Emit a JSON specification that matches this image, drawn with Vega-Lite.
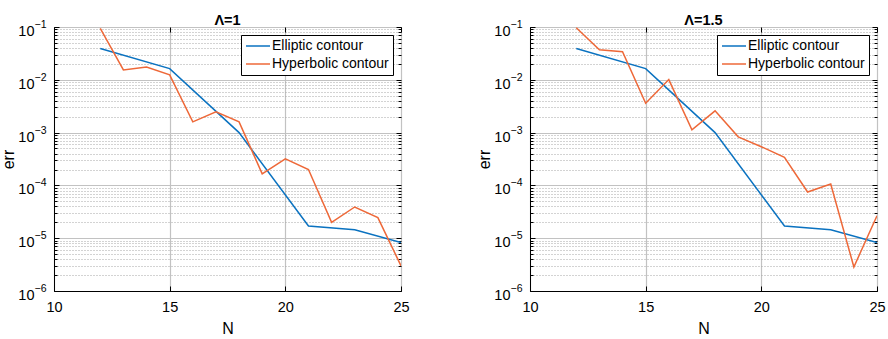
{
  "$schema": "https://vega.github.io/schema/vega-lite/v6.json",
  "padding": {"left": 0, "top": 12, "right": 0, "bottom": 0},
  "config": {
    "font": "Liberation Sans",
    "view": {"stroke": "#000000", "strokeWidth": 1},
    "axis": {"domainColor": "#000000", "tickColor": "#000000", "labelColor": "#000000", "titleColor": "#000000", "labelFontSize": 14.5, "titleFontSize": 16, "titleFontWeight": "normal", "labelFont": "Liberation Sans", "titleFont": "Liberation Sans"},
    "title": {"fontSize": 14.5, "fontWeight": "bold", "color": "#000000", "offset": -9},
    "legend": {"labelFontSize": 14, "labelColor": "#000000"}
  },
  "datasets": {
    "d": [
      {"panel": "A", "series": "Elliptic contour", "N": 12, "err": 0.039},
      {"panel": "A", "series": "Elliptic contour", "N": 15, "err": 0.0163},
      {"panel": "A", "series": "Elliptic contour", "N": 18, "err": 0.001},
      {"panel": "A", "series": "Elliptic contour", "N": 21, "err": 1.7e-5},
      {"panel": "A", "series": "Elliptic contour", "N": 23, "err": 1.45e-5},
      {"panel": "A", "series": "Elliptic contour", "N": 25, "err": 8.3e-6},
      {"panel": "A", "series": "Hyperbolic contour", "N": 12, "err": 0.094},
      {"panel": "A", "series": "Hyperbolic contour", "N": 13, "err": 0.0154},
      {"panel": "A", "series": "Hyperbolic contour", "N": 14, "err": 0.0175},
      {"panel": "A", "series": "Hyperbolic contour", "N": 15, "err": 0.0124},
      {"panel": "A", "series": "Hyperbolic contour", "N": 16, "err": 0.0016},
      {"panel": "A", "series": "Hyperbolic contour", "N": 17, "err": 0.00247},
      {"panel": "A", "series": "Hyperbolic contour", "N": 18, "err": 0.0016},
      {"panel": "A", "series": "Hyperbolic contour", "N": 19, "err": 1.66e-4},
      {"panel": "A", "series": "Hyperbolic contour", "N": 20, "err": 3.18e-4},
      {"panel": "A", "series": "Hyperbolic contour", "N": 21, "err": 2.0e-4},
      {"panel": "A", "series": "Hyperbolic contour", "N": 22, "err": 2.0e-5},
      {"panel": "A", "series": "Hyperbolic contour", "N": 23, "err": 3.9e-5},
      {"panel": "A", "series": "Hyperbolic contour", "N": 24, "err": 2.45e-5},
      {"panel": "A", "series": "Hyperbolic contour", "N": 25, "err": 3.0e-6},
      {"panel": "B", "series": "Elliptic contour", "N": 12, "err": 0.039},
      {"panel": "B", "series": "Elliptic contour", "N": 15, "err": 0.0163},
      {"panel": "B", "series": "Elliptic contour", "N": 18, "err": 0.001},
      {"panel": "B", "series": "Elliptic contour", "N": 21, "err": 1.7e-5},
      {"panel": "B", "series": "Elliptic contour", "N": 23, "err": 1.45e-5},
      {"panel": "B", "series": "Elliptic contour", "N": 25, "err": 8.3e-6},
      {"panel": "B", "series": "Hyperbolic contour", "N": 12, "err": 0.097},
      {"panel": "B", "series": "Hyperbolic contour", "N": 13, "err": 0.037},
      {"panel": "B", "series": "Hyperbolic contour", "N": 14, "err": 0.034},
      {"panel": "B", "series": "Hyperbolic contour", "N": 15, "err": 0.0036},
      {"panel": "B", "series": "Hyperbolic contour", "N": 16, "err": 0.0101},
      {"panel": "B", "series": "Hyperbolic contour", "N": 17, "err": 0.00113},
      {"panel": "B", "series": "Hyperbolic contour", "N": 18, "err": 0.00258},
      {"panel": "B", "series": "Hyperbolic contour", "N": 19, "err": 8.3e-4},
      {"panel": "B", "series": "Hyperbolic contour", "N": 20, "err": 5.4e-4},
      {"panel": "B", "series": "Hyperbolic contour", "N": 21, "err": 3.4e-4},
      {"panel": "B", "series": "Hyperbolic contour", "N": 22, "err": 7.5e-5},
      {"panel": "B", "series": "Hyperbolic contour", "N": 23, "err": 1.06e-4},
      {"panel": "B", "series": "Hyperbolic contour", "N": 24, "err": 2.85e-6},
      {"panel": "B", "series": "Hyperbolic contour", "N": 25, "err": 2.66e-5}
    ]
  },
  "spacing": 66,
  "resolve": {"scale": {"color": "independent"}, "legend": {"color": "independent"}},
  "hconcat": [
    {
      "title": "Λ=1",
      "width": 347, "height": 264,
      "data": {"name": "d"},
      "transform": [{"filter": "datum.panel == 'A'"}],
      "resolve": {"axis": {"x": "independent", "y": "independent"}},
      "layer": [
        {
          "mark": {"type": "line", "strokeWidth": 1.5, "clip": true},
          "encoding": {
            "x": {"field": "N", "type": "quantitative", "scale": {"domain": [10, 25], "nice": false, "zero": false},
              "axis": {"values": [10, 15, 20, 25], "title": "N", "grid": true, "gridColor": "#c2c2c2", "gridWidth": 1.2, "tickSize": -5, "labelPadding": 14, "titlePadding": 7, "labelFlush": false}},
            "y": {"field": "err", "type": "quantitative", "scale": {"type": "log", "domain": [1e-6, 0.1], "nice": false},
              "axis": {"values": [1e-6,2e-6,3e-6,4e-6,5e-6,6e-6,7e-6,8e-6,9e-6,1e-5,2e-5,3e-5,4e-5,5e-5,6e-5,7e-5,8e-5,9e-5,1e-4,2e-4,3e-4,4e-4,5e-4,6e-4,7e-4,8e-4,9e-4,0.001,0.002,0.003,0.004,0.005,0.006,0.007,0.008,0.009,0.01,0.02,0.03,0.04,0.05,0.06,0.07,0.08,0.09,0.1],
                "title": "err", "titlePadding": 1, "labelOverlap": false, "labelFlush": false,
                "labelExpr": "(abs(log(datum.value)/LN10 - round(log(datum.value)/LN10)) < 0.001) ? '10' : ''",
                "grid": true,
                "gridColor": {"condition": {"test": "abs(log(datum.value)/LN10 - round(log(datum.value)/LN10)) < 0.001", "value": "#c2c2c2"}, "value": "#a6a6a6"},
                "gridDash": {"condition": {"test": "abs(log(datum.value)/LN10 - round(log(datum.value)/LN10)) < 0.001", "value": []}, "value": [1, 2]},
                "gridWidth": {"condition": {"test": "abs(log(datum.value)/LN10 - round(log(datum.value)/LN10)) < 0.001", "value": 1.2}, "value": 1},
                "ticks": false, "tickSize": 0, "labelPadding": 20, "labelOffset": 4.5}},
            "color": {"field": "series", "type": "nominal", "scale": {"domain": ["Elliptic contour", "Hyperbolic contour"], "range": ["#0a72c0", "#ee6838"]},
              "legend": {"title": null, "orient": "top-right", "offset": 8, "strokeColor": "#000000", "fillColor": "#ffffff", "padding": 4, "symbolType": "M-2,0L2,0", "symbolSize": 144, "symbolOffset": 6, "symbolStrokeWidth": 1.5, "labelOffset": 7, "rowPadding": 4, "labelLimit": 300}}
          }
        },
        {
          "mark": {"type": "point", "opacity": 0},
          "encoding": {
            "x": {"field": "N", "type": "quantitative", "axis": {"orient": "top", "values": [10, 15, 20, 25], "title": null, "labels": false, "grid": false, "tickSize": -5, "domain": false}},
            "y": {"field": "err", "type": "quantitative",
              "axis": {"orient": "right", "values": [1e-6,2e-6,3e-6,4e-6,5e-6,6e-6,7e-6,8e-6,9e-6,1e-5,2e-5,3e-5,4e-5,5e-5,6e-5,7e-5,8e-5,9e-5,1e-4,2e-4,3e-4,4e-4,5e-4,6e-4,7e-4,8e-4,9e-4,0.001,0.002,0.003,0.004,0.005,0.006,0.007,0.008,0.009,0.01,0.02,0.03,0.04,0.05,0.06,0.07,0.08,0.09,0.1],
                "title": null, "labels": false, "grid": false, "domain": false,
                "tickSize": {"condition": {"test": "abs(log(datum.value)/LN10 - round(log(datum.value)/LN10)) < 0.001", "value": -5}, "value": -3}}}
          }
        },
        {
          "mark": {"type": "point", "opacity": 0},
          "encoding": {
            "x": {"field": "N", "type": "quantitative", "axis": null},
            "y": {"field": "err", "type": "quantitative",
              "axis": {"orient": "left", "values": [1e-6,1e-5,1e-4,0.001,0.01,0.1], "title": null, "grid": false, "domain": false, "ticks": false, "tickSize": 0,
                "labelExpr": "'−' + (-round(log(datum.value)/LN10))", "labelAlign": "left", "labelPadding": 20, "labelOffset": -2.5, "labelFontSize": 10.5, "labelOverlap": false, "labelFlush": false}}
          }
        },
        {
          "mark": {"type": "point", "opacity": 0},
          "encoding": {
            "x": {"field": "N", "type": "quantitative", "axis": null},
            "y": {"field": "err", "type": "quantitative",
              "axis": {"orient": "left", "values": [1e-6,2e-6,3e-6,4e-6,5e-6,6e-6,7e-6,8e-6,9e-6,1e-5,2e-5,3e-5,4e-5,5e-5,6e-5,7e-5,8e-5,9e-5,1e-4,2e-4,3e-4,4e-4,5e-4,6e-4,7e-4,8e-4,9e-4,0.001,0.002,0.003,0.004,0.005,0.006,0.007,0.008,0.009,0.01,0.02,0.03,0.04,0.05,0.06,0.07,0.08,0.09,0.1],
                "title": null, "labels": false, "grid": false, "domain": false,
                "tickSize": {"condition": {"test": "abs(log(datum.value)/LN10 - round(log(datum.value)/LN10)) < 0.001", "value": -5}, "value": -3}}}
          }
        }
      ]
    },
    {
      "title": "Λ=1.5",
      "width": 347, "height": 264,
      "data": {"name": "d"},
      "transform": [{"filter": "datum.panel == 'B'"}],
      "resolve": {"axis": {"x": "independent", "y": "independent"}},
      "layer": [
        {
          "mark": {"type": "line", "strokeWidth": 1.5, "clip": true},
          "encoding": {
            "x": {"field": "N", "type": "quantitative", "scale": {"domain": [10, 25], "nice": false, "zero": false},
              "axis": {"values": [10, 15, 20, 25], "title": "N", "grid": true, "gridColor": "#c2c2c2", "gridWidth": 1.2, "tickSize": -5, "labelPadding": 14, "titlePadding": 7, "labelFlush": false}},
            "y": {"field": "err", "type": "quantitative", "scale": {"type": "log", "domain": [1e-6, 0.1], "nice": false},
              "axis": {"values": [1e-6,2e-6,3e-6,4e-6,5e-6,6e-6,7e-6,8e-6,9e-6,1e-5,2e-5,3e-5,4e-5,5e-5,6e-5,7e-5,8e-5,9e-5,1e-4,2e-4,3e-4,4e-4,5e-4,6e-4,7e-4,8e-4,9e-4,0.001,0.002,0.003,0.004,0.005,0.006,0.007,0.008,0.009,0.01,0.02,0.03,0.04,0.05,0.06,0.07,0.08,0.09,0.1],
                "title": "err", "titlePadding": 1, "labelOverlap": false, "labelFlush": false,
                "labelExpr": "(abs(log(datum.value)/LN10 - round(log(datum.value)/LN10)) < 0.001) ? '10' : ''",
                "grid": true,
                "gridColor": {"condition": {"test": "abs(log(datum.value)/LN10 - round(log(datum.value)/LN10)) < 0.001", "value": "#c2c2c2"}, "value": "#a6a6a6"},
                "gridDash": {"condition": {"test": "abs(log(datum.value)/LN10 - round(log(datum.value)/LN10)) < 0.001", "value": []}, "value": [1, 2]},
                "gridWidth": {"condition": {"test": "abs(log(datum.value)/LN10 - round(log(datum.value)/LN10)) < 0.001", "value": 1.2}, "value": 1},
                "ticks": false, "tickSize": 0, "labelPadding": 20, "labelOffset": 4.5}},
            "color": {"field": "series", "type": "nominal", "scale": {"domain": ["Elliptic contour", "Hyperbolic contour"], "range": ["#0a72c0", "#ee6838"]},
              "legend": {"title": null, "orient": "top-right", "offset": 8, "strokeColor": "#000000", "fillColor": "#ffffff", "padding": 4, "symbolType": "M-2,0L2,0", "symbolSize": 144, "symbolOffset": 6, "symbolStrokeWidth": 1.5, "labelOffset": 7, "rowPadding": 4, "labelLimit": 300}}
          }
        },
        {
          "mark": {"type": "point", "opacity": 0},
          "encoding": {
            "x": {"field": "N", "type": "quantitative", "axis": {"orient": "top", "values": [10, 15, 20, 25], "title": null, "labels": false, "grid": false, "tickSize": -5, "domain": false}},
            "y": {"field": "err", "type": "quantitative",
              "axis": {"orient": "right", "values": [1e-6,2e-6,3e-6,4e-6,5e-6,6e-6,7e-6,8e-6,9e-6,1e-5,2e-5,3e-5,4e-5,5e-5,6e-5,7e-5,8e-5,9e-5,1e-4,2e-4,3e-4,4e-4,5e-4,6e-4,7e-4,8e-4,9e-4,0.001,0.002,0.003,0.004,0.005,0.006,0.007,0.008,0.009,0.01,0.02,0.03,0.04,0.05,0.06,0.07,0.08,0.09,0.1],
                "title": null, "labels": false, "grid": false, "domain": false,
                "tickSize": {"condition": {"test": "abs(log(datum.value)/LN10 - round(log(datum.value)/LN10)) < 0.001", "value": -5}, "value": -3}}}
          }
        },
        {
          "mark": {"type": "point", "opacity": 0},
          "encoding": {
            "x": {"field": "N", "type": "quantitative", "axis": null},
            "y": {"field": "err", "type": "quantitative",
              "axis": {"orient": "left", "values": [1e-6,1e-5,1e-4,0.001,0.01,0.1], "title": null, "grid": false, "domain": false, "ticks": false, "tickSize": 0,
                "labelExpr": "'−' + (-round(log(datum.value)/LN10))", "labelAlign": "left", "labelPadding": 20, "labelOffset": -2.5, "labelFontSize": 10.5, "labelOverlap": false, "labelFlush": false}}
          }
        },
        {
          "mark": {"type": "point", "opacity": 0},
          "encoding": {
            "x": {"field": "N", "type": "quantitative", "axis": null},
            "y": {"field": "err", "type": "quantitative",
              "axis": {"orient": "left", "values": [1e-6,2e-6,3e-6,4e-6,5e-6,6e-6,7e-6,8e-6,9e-6,1e-5,2e-5,3e-5,4e-5,5e-5,6e-5,7e-5,8e-5,9e-5,1e-4,2e-4,3e-4,4e-4,5e-4,6e-4,7e-4,8e-4,9e-4,0.001,0.002,0.003,0.004,0.005,0.006,0.007,0.008,0.009,0.01,0.02,0.03,0.04,0.05,0.06,0.07,0.08,0.09,0.1],
                "title": null, "labels": false, "grid": false, "domain": false,
                "tickSize": {"condition": {"test": "abs(log(datum.value)/LN10 - round(log(datum.value)/LN10)) < 0.001", "value": -5}, "value": -3}}}
          }
        }
      ]
    }
  ]
}
